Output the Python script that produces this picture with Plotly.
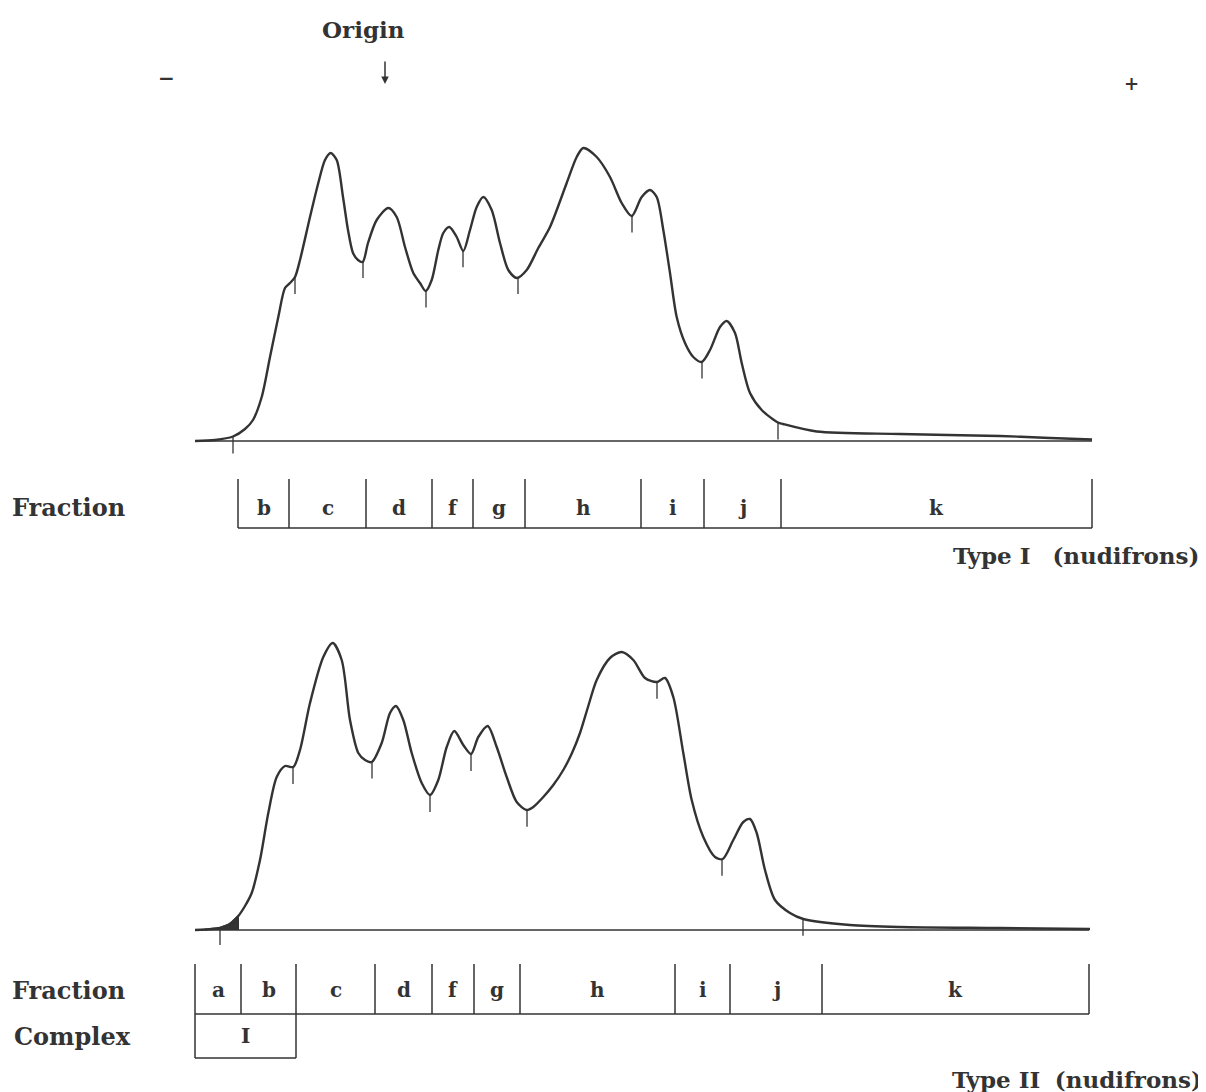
import plotly.graph_objects as go
import numpy as np

# ---------------- data ----------------
# Type I (nudifrons): scan position vs. density above baseline
type1_pos = [195, 215, 233, 245, 253, 261.7, 270, 278.3, 285, 290, 295, 300, 310, 318.3, 325, 330.7,
             336.7, 343, 348, 353, 358, 362.7, 368, 376.7, 388.3, 396.7, 405, 413.3, 420, 425.7,
             431.7, 438.3, 443.3, 449.3, 456.7, 463.3, 470, 476.7, 483.3, 491.7, 500, 508.3, 516.7,
             526.7, 538.3, 550, 566.7, 576.7, 583.3, 596.7, 610, 621.7, 631.7, 641.7, 650, 656.7,
             663.3, 670, 676.7, 685, 693.3, 701.7, 710, 720, 726.7, 735, 741.7, 750, 761.7, 778,
             783, 816.7, 900, 1000, 1050, 1092]
type1_den = [0, 1, 4.5, 12, 21, 44, 84, 124, 153, 158, 164, 181, 224, 258, 281, 288,
             281, 244, 211, 188, 181, 179, 198, 221, 233, 224, 194, 168, 158, 150,
             161, 191, 208, 214, 204, 190, 211, 234, 244, 231, 198, 171, 163,
             171, 193, 214, 258, 284, 293, 284, 264, 238, 225, 244, 251, 244,
             211, 168, 124, 98, 84, 79, 91, 114, 120, 108, 78, 48, 31, 18.5,
             17, 9.5, 7, 5, 3, 1.5]
type1_cuts = [233, 295, 363, 426, 463, 518, 632, 702, 778]
type1_bounds = [238, 289, 366, 432, 473, 525, 641, 704, 781, 1092]
type1_labels = ["b", "c", "d", "f", "g", "h", "i", "j", "k"]

# Type II (nudifrons)
type2_pos = [195, 205, 220, 230, 238.3, 245, 251.7, 260, 268.3, 276.7, 285, 293.3, 300, 310, 323.3,
             332.7, 341.7, 350, 358.3, 365, 371.7, 381.7, 390, 396, 403.3, 411.7, 421.7, 430,
             438.3, 446.7, 454.3, 463.3, 471, 478.3, 487.7, 496.7, 506.7, 516.7, 526.7, 533.3, 543.3,
             553.3, 563.3, 572, 580, 588, 596.7, 610, 621.7, 633.3, 645, 656.7, 665, 673.3, 683.3, 691.7,
             703.3, 715, 722.7, 733.3, 743.3, 750, 756.7, 765, 775, 790, 803.3, 850, 900, 1000, 1090]
type2_den = [0, 0.5, 2, 6, 14, 24, 37, 70, 117, 153, 164, 163, 180, 227, 273,
             287, 270, 210, 177, 170, 168, 187, 217, 224, 210, 177, 147, 135,
             150, 183, 199, 185, 176, 193, 204, 183, 153, 128, 120, 123, 133,
             145, 160, 177, 197, 223, 250, 272, 278, 270, 252, 248, 252, 233, 177, 130,
             93, 73, 71, 90, 108, 111, 97, 60, 30, 17, 11, 5, 3, 2, 1]
type2_cuts = [220, 293, 372, 430, 471, 527, 657, 722, 803]
type2_bounds = [195, 241, 296, 375, 432, 474, 520, 675, 730, 822, 1089]
type2_labels = ["a", "b", "c", "d", "f", "g", "h", "i", "j", "k"]
complex_bounds = [195, 296]
complex_label = "I"
complex_fill = [205, 238]   # shaded part of fraction a

# ---------------- figure ----------------
OFF = 8                 # page body margin
W, H = 1198, 1084
INK = "#333333"
FONT = "DejaVu Serif"

def py(y):
    """page pixel row -> paper fraction"""
    return 1 - (y - OFF) / H

def px(x):
    return (x - OFF) / W

fig = go.Figure()

def add_scan(xa, ya, pos, den, cuts, start, end):
    fig.add_trace(go.Scatter(x=[start, end], y=[0, 0], mode="lines",
                             line=dict(color=INK, width=1.4), xaxis=xa, yaxis=ya,
                             hoverinfo="skip", showlegend=False))
    fig.add_trace(go.Scatter(x=pos, y=den, mode="lines",
                             line=dict(color=INK, width=2.4, shape="spline", smoothing=0.8),
                             xaxis=xa, yaxis=ya, showlegend=False))
    cx, cy = [], []
    for c in cuts:
        v = float(np.interp(c, pos, den))
        cx += [c, c, None]
        cy += [v, v - 17, None]
    fig.add_trace(go.Scatter(x=cx, y=cy, mode="lines", line=dict(color=INK, width=1.3),
                             xaxis=xa, yaxis=ya, hoverinfo="skip", showlegend=False))

add_scan("x", "y", type1_pos, type1_den, type1_cuts, 195, type1_bounds[-1])
add_scan("x2", "y2", type2_pos, type2_den, type2_cuts, 195, type2_bounds[-1])

# shaded part (fraction a) in Type II
fx = np.linspace(complex_fill[0], complex_fill[1], 12)
fy = np.interp(fx, type2_pos, type2_den)
fig.add_trace(go.Scatter(x=list(fx) + [complex_fill[1]], y=list(fy) + [0], mode="lines",
                         fill="tozeroy", fillcolor=INK,
                         line=dict(color=INK, width=2), xaxis="x2", yaxis="y2",
                         hoverinfo="skip", showlegend=False))

shapes = []
annos = []

def fraction_row(xref, bounds, labels, ytop, ybot, label_y):
    for b in bounds:
        shapes.append(dict(type="line", xref=xref, yref="paper", x0=b, x1=b,
                           y0=py(ytop), y1=py(ybot), line=dict(color=INK, width=1.5)))
    shapes.append(dict(type="line", xref=xref, yref="paper", x0=bounds[0], x1=bounds[-1],
                       y0=py(ybot), y1=py(ybot), line=dict(color=INK, width=1.5)))
    for i, lab in enumerate(labels):
        annos.append(dict(x=(bounds[i] + bounds[i + 1]) / 2, y=py(label_y), xref=xref, yref="paper",
                          text=f"<b>{lab}</b>", showarrow=False, xanchor="center", yanchor="middle",
                          font=dict(family=FONT, size=20, color=INK)))

fraction_row("x", type1_bounds, type1_labels, 479, 528, 508)
fraction_row("x2", type2_bounds, type2_labels, 964, 1014, 990)

for b in complex_bounds:
    shapes.append(dict(type="line", xref="x2", yref="paper", x0=b, x1=b, y0=py(1014), y1=py(1058),
                       line=dict(color=INK, width=1.5)))
shapes.append(dict(type="line", xref="x2", yref="paper", x0=complex_bounds[0], x1=complex_bounds[1],
                   y0=py(1058), y1=py(1058), line=dict(color=INK, width=1.5)))
annos.append(dict(x=sum(complex_bounds) / 2, y=py(1036), xref="x2", yref="paper",
                  text=f"<b>{complex_label}</b>", showarrow=False, xanchor="center", yanchor="middle",
                  font=dict(family=FONT, size=20, color=INK)))

def text(x, y, s, size=24, xanchor="left"):
    annos.append(dict(x=px(x), y=py(y), xref="paper", yref="paper", text=s, showarrow=False,
                      xanchor=xanchor, yanchor="middle", font=dict(family=FONT, size=size, color=INK)))

text(10, 507, "<b>Fraction</b>")
text(10, 990, "<b>Fraction</b>")
text(12, 1036, "<b>Complex</b>")
text(1201, 555, "<b>Type I</b>&nbsp;&nbsp;&nbsp;<b>(nudifrons)</b>", size=23, xanchor="right")
text(1204, 1079, "<b>Type II</b>&nbsp;&nbsp;<b>(nudifrons)</b>", size=23, xanchor="right")
text(363, 29, "<b>Origin</b>", size=23, xanchor="center")
text(166, 78, "<b>−</b>", size=20, xanchor="center")
text(1131, 84, "<b>+</b>", size=18, xanchor="center")

annos.append(dict(x=px(385), y=py(84), xref="paper", yref="paper", ax=0, ay=-24, text="",
                  showarrow=True, arrowhead=2, arrowsize=1, arrowwidth=1.5, arrowcolor=INK))

ax_common = dict(visible=False, showgrid=False, zeroline=False, range=[OFF, OFF + W])
fig.update_layout(
    width=W, height=H, margin=dict(l=0, r=0, t=0, b=0),
    paper_bgcolor="white", plot_bgcolor="white",
    xaxis=dict(domain=[0, 1], anchor="y", **ax_common),
    xaxis2=dict(domain=[0, 1], anchor="y2", **ax_common),
    yaxis=dict(visible=False, range=[-30, 300], domain=[py(471), py(141)], anchor="x"),
    yaxis2=dict(visible=False, range=[-30, 300], domain=[py(960), py(630)], anchor="x2"),
    shapes=shapes, annotations=annos, showlegend=False,
)

fig.write_html("out.html")
